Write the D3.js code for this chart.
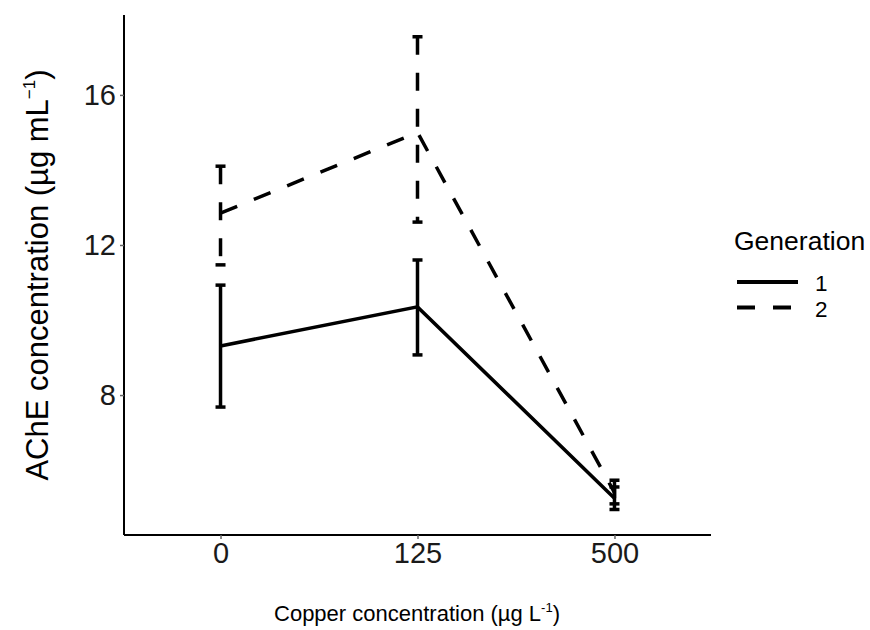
<!DOCTYPE html>
<html><head><meta charset="utf-8">
<script src="https://cdn.jsdelivr.net/npm/d3@7"></script>
<style>body{margin:0;background:#fff}</style>
</head><body>
<script>
const categories = ["0", "125", "500"];
const generations = ["1", "2"];
const gen1Mean = [9.31, 10.35, 5.25];
const gen1Low  = [7.68, 9.07, 4.95];
const gen1High = [10.93, 11.6, 5.55];
const gen2Mean = [12.85, 15.0, 5.4];
const gen2Low  = [11.47, 12.61, 5.1];
const gen2High = [14.1, 17.55, 5.73];
const yTicks = [8, 12, 16];

(function () {
const W = 870, H = 630;
const FONT = "Liberation Sans, Arial, sans-serif";
const svg = d3.select("body").append("svg").attr("width", W).attr("height", H);
const pLeft = 124, pRight = 711, pTop = 15, pBottom = 535;

const x = d3.scalePoint().domain(categories).range([pLeft, pRight]).padding(0.49);
const y = d3.scaleLinear().domain([4.27, 18.13]).range([pBottom, pTop]);

const DASH = "18,18";
const series = [
  {gen: generations[0], mean: gen1Mean, lo: gen1Low, hi: gen1High, dash: null},
  {gen: generations[1], mean: gen2Mean, lo: gen2Low, hi: gen2High, dash: DASH}
];

const g = svg.append("g");
series.forEach(s => {
  const pts = categories.map((c, i) => ({c, m: s.mean[i], lo: s.lo[i], hi: s.hi[i]}));
  pts.forEach(p => {
    const eb = g.append("g").attr("stroke", "#000").attr("stroke-width", 3.5).attr("fill", "none");
    eb.append("line").attr("x1", x(p.c)).attr("x2", x(p.c)).attr("y1", y(p.hi)).attr("y2", y(p.lo))
      .attr("stroke-dasharray", s.dash);
    eb.append("line").attr("x1", x(p.c) - 5).attr("x2", x(p.c) + 5).attr("y1", y(p.lo)).attr("y2", y(p.lo));
    eb.append("line").attr("x1", x(p.c) - 5).attr("x2", x(p.c) + 5).attr("y1", y(p.hi)).attr("y2", y(p.hi));
  });
  g.append("path").datum(pts)
    .attr("d", d3.line().x(p => x(p.c)).y(p => y(p.m)))
    .attr("fill", "none").attr("stroke", "#000").attr("stroke-width", 3.5)
    .attr("stroke-dasharray", s.dash);
});

const xAxis = svg.append("g").attr("transform", `translate(0,${pBottom})`)
  .call(d3.axisBottom(x).tickSize(4).tickPadding(3));
const yAxis = svg.append("g").attr("transform", `translate(${pLeft},0)`)
  .call(d3.axisLeft(y).tickValues(yTicks).tickSize(4).tickPadding(4));
[xAxis, yAxis].forEach(a => {
  a.select(".domain").attr("stroke", "#000").attr("stroke-width", 2);
  a.selectAll(".tick line").attr("stroke", "#666").attr("stroke-width", 1.5);
  a.selectAll(".tick text").attr("font-family", FONT)
    .attr("font-size", 29).attr("fill", "#1a1a1a");
});
xAxis.select(".domain").attr("d", `M${pLeft},0H${pRight}`);
yAxis.select(".domain").attr("d", `M0,${pTop}V${pBottom}`);

const xt = svg.append("text").attr("x", 417).attr("y", 621)
  .attr("text-anchor", "middle").attr("font-family", FONT)
  .attr("font-size", 22).attr("fill", "#000");
xt.append("tspan").text("Copper concentration (µg L");
xt.append("tspan").text("-1").attr("font-size", 13).attr("dy", -9);
xt.append("tspan").text(")").attr("dy", 9);

const yt = svg.append("text").attr("transform", `translate(48,275) rotate(-90)`)
  .attr("text-anchor", "middle").attr("font-family", FONT)
  .attr("font-size", 31).attr("fill", "#000");
yt.append("tspan").text("AChE concentration (µg mL");
yt.append("tspan").text("−1").attr("font-size", 17).attr("dy", -13);
yt.append("tspan").text(")").attr("dy", 13);

const lg = svg.append("g").attr("font-family", FONT);
lg.append("text").attr("x", 734).attr("y", 250).attr("font-size", 26.5).text("Generation");
series.forEach((s, i) => {
  const yy = 282 + i * 25.5;
  lg.append("line").attr("x1", 737).attr("x2", 798).attr("y1", yy).attr("y2", yy)
    .attr("stroke", "#000").attr("stroke-width", 4).attr("stroke-dasharray", s.dash);
  lg.append("text").attr("x", 815).attr("y", yy + 9).attr("font-size", 22.5).text(s.gen);
});
})();
</script>
</body></html>
